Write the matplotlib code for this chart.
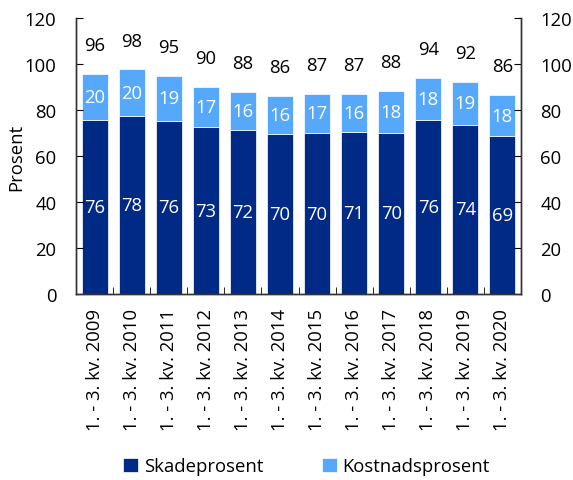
import matplotlib
matplotlib.use('Agg')
import matplotlib.pyplot as plt
import numpy as np

plt.rcParams['font.family'] = ['Open Sans', 'DejaVu Sans']

# Data
categories = ['1. - 3. kv. 2009', '1. - 3. kv. 2010', '1. - 3. kv. 2011', '1. - 3. kv. 2012',
              '1. - 3. kv. 2013', '1. - 3. kv. 2014', '1. - 3. kv. 2015', '1. - 3. kv. 2016',
              '1. - 3. kv. 2017', '1. - 3. kv. 2018', '1. - 3. kv. 2019', '1. - 3. kv. 2020']
skade = [75.5, 77.3, 75.3, 72.5, 71.4, 69.6, 69.9, 70.6, 70.1, 75.7, 73.5, 68.6]
kostnad = [20.3, 20.4, 19.4, 17.4, 16.6, 16.4, 17.2, 16.3, 18.1, 18.3, 18.8, 18.0]
skade_labels = [76, 78, 76, 73, 72, 70, 70, 71, 70, 76, 74, 69]
kostnad_labels = [20, 20, 19, 17, 16, 16, 17, 16, 18, 18, 19, 18]
total_labels = [96, 98, 95, 90, 88, 86, 87, 87, 88, 94, 92, 86]

dark = '#002a85'
light = '#56a8fb'

fig = plt.figure(figsize=(5.73, 4.81), dpi=100)
ax = fig.add_axes([76/573, 1 - 295/481, (521 - 76)/573, (295 - 19)/481])

x = np.arange(len(categories))
ax.bar(x, skade, width=0.7, color=dark, edgecolor='white', linewidth=0.5, label='Skadeprosent')
ax.bar(x, kostnad, width=0.7, bottom=skade, color=light, edgecolor='white', linewidth=0.5,
       label='Kostnadsprosent')

fs = 13.3
for i in range(len(x)):
    ax.text(x[i], skade[i] / 2, str(skade_labels[i]), ha='center', va='center',
            color='white', fontsize=fs)
    ax.text(x[i], skade[i] + kostnad[i] / 2, str(kostnad_labels[i]), ha='center', va='center',
            color='white', fontsize=fs)
    ax.text(x[i], skade[i] + kostnad[i] + 12.5, str(total_labels[i]), ha='center', va='center',
            color='black', fontsize=fs)

ax.set_xlim(-0.5, len(x) - 0.5)
ax.set_ylim(0, 120)
ax.set_yticks(range(0, 121, 20))
ax.set_ylabel('Prosent', fontsize=fs)
ax.yaxis.set_label_coords(-0.115, 0.5)

ax.set_xticks(x)
ax.set_xticklabels(categories, rotation=90, fontsize=fs)
ax.tick_params(axis='x', length=0, pad=10)
ax.set_xticks(np.arange(0.5, len(x) - 0.5, 1), minor=True)
ax.tick_params(axis='x', which='minor', direction='in', length=5)
ax.tick_params(axis='y', direction='in', length=5, labelsize=fs, pad=14)

ax2 = ax.twinx()
ax2.set_ylim(0, 120)
ax2.set_yticks(range(0, 121, 20))
ax2.tick_params(axis='y', direction='in', length=5, labelsize=fs, pad=14)

for a in (ax, ax2):
    a.spines['top'].set_visible(False)
    for s in ('left', 'right', 'bottom'):
        a.spines[s].set_color('#333333')
        a.spines[s].set_linewidth(1)

handles, labels = ax.get_legend_handles_labels()
fig.legend(handles, labels, loc='center', bbox_to_anchor=(0.535, 1 - 467/481), ncol=2,
           frameon=False, fontsize=fs, handlelength=0.8, handleheight=0.8,
           handletextpad=0.3, columnspacing=3.2)

plt.savefig('out.png', dpi=100)
